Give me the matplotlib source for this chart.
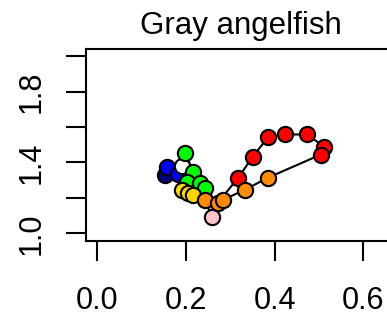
import matplotlib
matplotlib.use("Agg")
import matplotlib.pyplot as plt

plt.rcParams['font.family'] = ['Liberation Sans', 'DejaVu Sans']

title = "Gray angelfish"
x_vals = [0.153, 0.157, 0.182, 0.191, 0.198, 0.216, 0.202, 0.232, 0.243,
          0.191, 0.205, 0.216, 0.243, 0.259, 0.272, 0.318, 0.351, 0.385,
          0.424, 0.473, 0.512, 0.505, 0.385, 0.333, 0.284]
y_vals = [1.331, 1.377, 1.337, 1.382, 1.456, 1.348, 1.292, 1.286, 1.258,
          1.246, 1.229, 1.218, 1.190, 1.093, 1.173, 1.314, 1.433, 1.541,
          1.558, 1.558, 1.490, 1.445, 1.314, 1.246, 1.190]
colors = ["#000080", "#0000FF", "#0000FF", "#FFFFFF", "#00FF00", "#00FF00",
          "#00FF00", "#00FF00", "#00FF00", "#FFD700", "#FFD700", "#FFD700",
          "#FF8C00", "#FFC0CB", "#FF8C00", "#FF0000", "#FF0000", "#FF0000",
          "#FF0000", "#FF0000", "#FF0000", "#FF0000", "#FF8C00", "#FF8C00",
          "#FF8C00"]
x_ticks = [0.0, 0.2, 0.4, 0.6]
x_tick_labels = ["0.0", "0.2", "0.4", "0.6"]
y_ticks = [1.0, 1.2, 1.4, 1.6, 1.8, 2.0]
y_tick_labels = ["1.0", "", "1.4", "", "1.8", ""]

fig = plt.figure(figsize=(3.87, 3.18), dpi=100)
ax = fig.add_axes([0.2217, 0.2437, 0.8036, 0.6022])
ax.plot(x_vals, y_vals, color="black", lw=1.5, zorder=1)
for xv, yv, c in zip(x_vals, y_vals, colors):
    ax.plot([xv], [yv], 'o', ms=11, mfc=c, mec="black", mew=1.5, zorder=2)

ax.set_xlim(-0.026, 0.676)
ax.set_ylim(0.96, 2.04)
ax.set_xticks(x_ticks)
ax.set_xticklabels(x_tick_labels)
ax.set_yticks(y_ticks)
ax.set_yticklabels(y_tick_labels, rotation=90, va='center')
ax.tick_params(axis='both', direction='out', length=14.4, width=1.5,
               labelsize=22)
ax.tick_params(axis='x', pad=18)
ax.tick_params(axis='y', pad=14)
for s in ax.spines.values():
    s.set_linewidth(1.5)
ax.set_title(title, fontsize=22.5, pad=11)

fig.savefig("out.png", dpi=100)
